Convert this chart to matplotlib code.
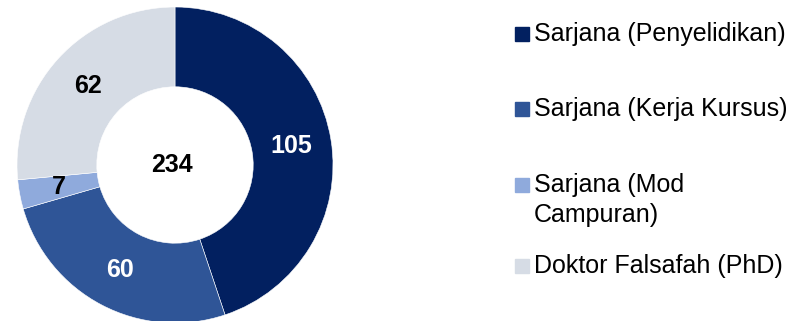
"""Donut chart of postgraduate enrolment by programme type."""

import numpy as np
import matplotlib

matplotlib.use("Agg")
import matplotlib.pyplot as plt
from matplotlib.patches import Rectangle

# ----------------------------------------------------------------------
# Data
# ----------------------------------------------------------------------
categories = [
    "Sarjana (Penyelidikan)",
    "Sarjana (Kerja Kursus)",
    "Sarjana (Mod\nCampuran)",
    "Doktor Falsafah (PhD)",
]
values = [105, 60, 7, 62]
colors = ["#022060", "#2F5597", "#8FAADC", "#D6DCE5"]
label_colors = ["white", "white", "black", "black"]

W, H = 789, 321
plt.rcParams["font.family"] = ["Liberation Sans", "DejaVu Sans"]

fig = plt.figure(figsize=(W / 100, H / 100), dpi=100)

# pie axes: centre (175, 165) px from top-left, outer radius 158 px
cx, cy, r = 175, 165, 158
ax = fig.add_axes([(cx - r) / W, (H - cy - r) / H, 2 * r / W, 2 * r / H])

ring = 0.505
wedges, _ = ax.pie(
    values, colors=colors, startangle=90, counterclock=False, radius=1,
    wedgeprops=dict(width=ring, edgecolor="white", linewidth=0.4),
)
ax.set_xlim(-1, 1)
ax.set_ylim(-1, 1)
ax.set_aspect("equal")
ax.axis("off")

# value labels at the middle of the ring
for w, v, tc in zip(wedges, values, label_colors):
    ang = np.deg2rad((w.theta1 + w.theta2) / 2)
    rr = 1 - ring / 2
    ax.text(rr * np.cos(ang), rr * np.sin(ang), str(v), color=tc,
            ha="center", va="center", fontsize=18, fontweight="bold")

ax.text(-0.02, 0, str(sum(values)), ha="center", va="center",
        fontsize=18, fontweight="bold", color="black")

# ----------------------------------------------------------------------
# Legend (manual, to keep the uneven row spacing)
# ----------------------------------------------------------------------
baselines = [41, 116, 192, 273]
line_gap = 30
for lab, col, base in zip(categories, colors, baselines):
    fig.patches.append(Rectangle((515 / W, (H - base) / H), 14 / W, 14 / H,
                                 transform=fig.transFigure, color=col))
    for i, line in enumerate(lab.split("\n")):
        fig.text(534 / W, (H - base - i * line_gap) / H, line,
                 ha="left", va="baseline", fontsize=18, color="black")

fig.savefig("out.png", dpi=100)
